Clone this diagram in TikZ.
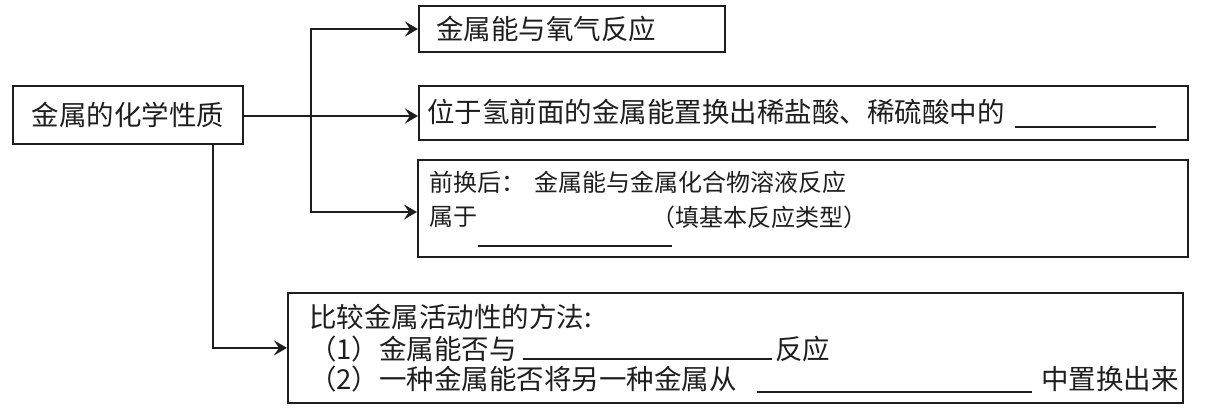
\documentclass[tikz,border=0pt]{standalone}
\usepackage{fontspec}
\newfontfamily\cjk{Noto Sans CJK SC}
\usetikzlibrary{arrows.meta}
\definecolor{ink}{HTML}{1E1E1E}
\begin{document}
\begin{tikzpicture}[x=1pt,y=-1pt,
  box/.style={draw=ink, line width=1.8pt, rectangle, inner sep=0pt, anchor=north west},
  txt/.style={inner sep=0pt, font=\cjk\fontsize{27.5pt}{30pt}\selectfont, text=ink},
  stxt/.style={inner sep=0pt, font=\cjk\fontsize{24pt}{26pt}\selectfont, text=ink},
  arr/.style={draw=ink, line width=1.8pt, -{Stealth[length=13pt,width=15pt,inset=5pt]}},
  blank/.style={draw=ink, line width=1.3pt}]
\useasboundingbox (0,0) rectangle (1209,412);
% boxes
\node[box, minimum width=230pt, minimum height=58pt] (L) at (12,85) {};
\node[box, minimum width=306pt, minimum height=46pt] (B1) at (418,5) {};
\node[box, minimum width=769pt, minimum height=54pt] (B2) at (418,85) {};
\node[box, minimum width=770pt, minimum height=97pt] (B3) at (417,159) {};
\node[box, minimum width=895pt, minimum height=110pt] (B4) at (287,292) {};
% texts
\node[txt] (Lt) at (L.center) {金属的化学性质};
\node[txt, anchor=west] (B1t) at (436,29) {金属能与氧气反应};
\node[txt, anchor=west] (B2t) at (427,112) {位于氢前面的金属能置换出稀盐酸、稀硫酸中的};
\node[stxt, anchor=west] (B3a) at (429,182) {前换后：\hspace{9pt}金属能与金属化合物溶液反应};
\node[stxt, anchor=west] (B3b) at (429,217) {属于};
\node[stxt, anchor=east] (B3c) at (868,217) {（填基本反应类型）};
\node[txt, anchor=west] (B4a) at (309,317) {比较金属活动性的方法:};
\node[txt, anchor=west] (B4b) at (309,349) {（1）金属能否与};
\node[txt, anchor=west] (B4c) at (775,349) {反应};
\node[txt, anchor=west] (B4d) at (309,379) {（2）一种金属能否将另一种金属从};
\node[txt, anchor=east] (B4e) at (1179,379) {中置换出来};
% blanks
\draw[blank] (1015,127) -- (1156,127);
\draw[blank] (478,246) -- (672,246);
\draw[blank] (523,359) -- (772,359);
\draw[blank] (757,392) -- (1032,392);
% connectors
\coordinate (t1) at (311,29);
\coordinate (t3) at (311,212);
\coordinate (d) at (213,143);
\draw[arr] (L.east |- 0,116) -- (B2.west |- 0,116);
\draw[arr] (t3) -- (t1) -- (t1 -| B1.west);
\draw[arr] (t1) -- (t3) -- (t3 -| B3.west);
\draw[arr] (d) |- (B4.west);
\end{tikzpicture}
\end{document}
